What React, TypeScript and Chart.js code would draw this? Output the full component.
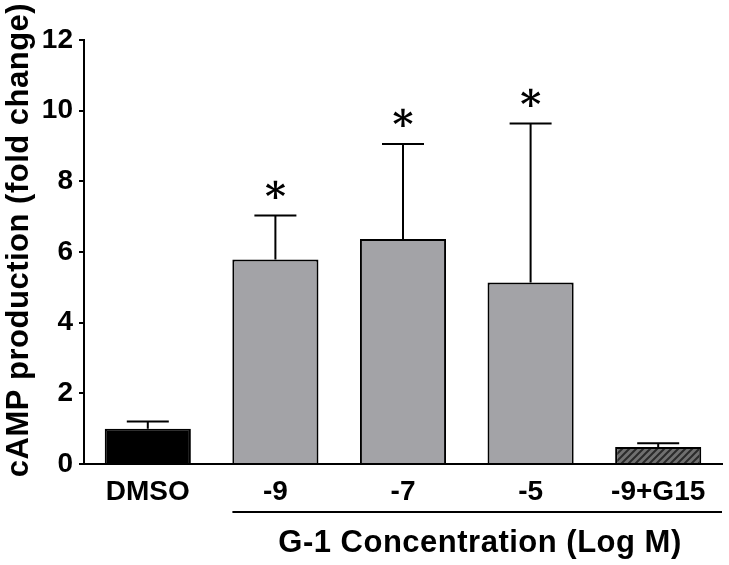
import React, { useEffect, useRef } from "react";
import { Chart, registerables } from "chart.js";

Chart.register(...registerables);

const categories = ["DMSO", "-9", "-7", "-5", "-9+G15"];
const means = [1.0, 5.79, 6.37, 5.14, 0.48];
const sems = [0.2, 1.24, 2.69, 4.5, 0.11];
const sigMarks = ["", "*", "*", "*", ""];
const yTicks = [0, 2, 4, 6, 8, 10, 12];
const yTitle = "cAMP production (fold change)";
const xTitle = "G-1 Concentration (Log M)";

const FONT = "'Liberation Sans', Arial, Helvetica, sans-serif";

function makeHatch(): CanvasPattern | string {
  const c = document.createElement("canvas");
  c.width = 7;
  c.height = 7;
  const g = c.getContext("2d");
  if (!g) return "#555";
  g.fillStyle = "#707070";
  g.fillRect(0, 0, 7, 7);
  g.strokeStyle = "#2a2a2a";
  g.lineWidth = 2;
  g.beginPath();
  g.moveTo(-1, 8);
  g.lineTo(8, -1);
  g.moveTo(-4.5, 4.5);
  g.lineTo(4.5, -4.5);
  g.moveTo(2.5, 11.5);
  g.lineTo(11.5, 2.5);
  g.stroke();
  const p = g.createPattern(c, "repeat");
  return p || "#555";
}

export default function App() {
  const ref = useRef<HTMLCanvasElement | null>(null);

  useEffect(() => {
    document.body.style.margin = "0";
    const canvas = ref.current;
    if (!canvas) return;
    const hatch = makeHatch();
    const colors = ["#000000", "#a3a3a7", "#a3a3a7", "#a3a3a7", hatch];

    const extras = {
      id: "extras",
      afterDatasetsDraw(chart: any) {
        const ctx = chart.ctx;
        const yS = chart.scales.y;
        const xS = chart.scales.x;
        const meta = chart.getDatasetMeta(0);
        ctx.save();
        ctx.strokeStyle = "#000";
        ctx.lineWidth = 2;
        meta.data.forEach((bar: any, i: number) => {
          const x = bar.x;
          const y0 = yS.getPixelForValue(means[i]);
          const y1 = yS.getPixelForValue(means[i] + sems[i]);
          ctx.beginPath();
          ctx.moveTo(x, y0);
          ctx.lineTo(x, y1);
          ctx.moveTo(x - 21, y1);
          ctx.lineTo(x + 21, y1);
          ctx.stroke();
          if (sigMarks[i]) {
            ctx.fillStyle = "#000";
            ctx.font = "bold 40px 'DejaVu Serif', serif";
            ctx.textAlign = "center";
            ctx.textBaseline = "alphabetic";
            const m = ctx.measureText(sigMarks[i]);
            const target = y1 - 26;
            const by = target - (m.actualBoundingBoxDescent - m.actualBoundingBoxAscent) / 2;
            ctx.fillText(sigMarks[i], x, by);
          }
        });
        // underline for the G-1 group
        const first = meta.data[1].x - 43;
        ctx.beginPath();
        ctx.moveTo(first, 512);
        ctx.lineTo(xS.right, 512);
        ctx.stroke();
        // x title
        ctx.fillStyle = "#000";
        ctx.font = `bold 31px ${FONT}`;
        (ctx as any).letterSpacing = "0.5px";
        ctx.textAlign = "center";
        ctx.textBaseline = "alphabetic";
        ctx.fillText(xTitle, 480, 552);
        // y title
        ctx.translate(28, 240);
        ctx.rotate(-Math.PI / 2);
        ctx.font = `bold 31px ${FONT}`;
        ctx.fillText(yTitle, 0, 0);
        (ctx as any).letterSpacing = "0px";
        ctx.restore();
      },
    };

    const chart = new Chart(canvas, {
      type: "bar",
      data: {
        labels: categories,
        datasets: [
          {
            data: means,
            backgroundColor: colors as any,
            borderColor: "#000",
            borderWidth: 2,
            categoryPercentage: 1,
            barPercentage: 0.675,
          },
        ],
      },
      options: {
        animation: false,
        responsive: true,
        maintainAspectRatio: false,
        layout: { padding: { top: 40, right: 7, left: 0, bottom: 0 } },
        plugins: { legend: { display: false }, tooltip: { enabled: false } },
        scales: {
          x: {
            grid: { display: false, drawTicks: false },
            border: { display: true, color: "#000", width: 2 },
            ticks: {
              color: "#000",
              font: { family: FONT, size: 28, weight: "bold" },
              padding: 11,
              maxRotation: 0,
            },
            afterFit(scale: any) {
              scale.height = 101;
            },
          },
          y: {
            min: 0,
            max: 12,
            afterBuildTicks(scale: any) {
              scale.ticks = yTicks.map((v) => ({ value: v }));
            },
            grid: {
              drawOnChartArea: false,
              drawTicks: true,
              tickLength: 5,
              color: "#000",
              lineWidth: 2,
            },
            border: { display: true, color: "#000", width: 2 },
            ticks: {
              color: "#000",
              font: { family: FONT, size: 28, weight: "bold" },
              padding: 6,
            },
            afterFit(scale: any) {
              scale.width = 84;
            },
          },
        },
      },
      plugins: [extras],
    });
    return () => chart.destroy();
  }, []);

  return (
    <div style={{ position: "relative", width: 729, height: 565 }}>
      <canvas ref={ref} />
    </div>
  );
}
